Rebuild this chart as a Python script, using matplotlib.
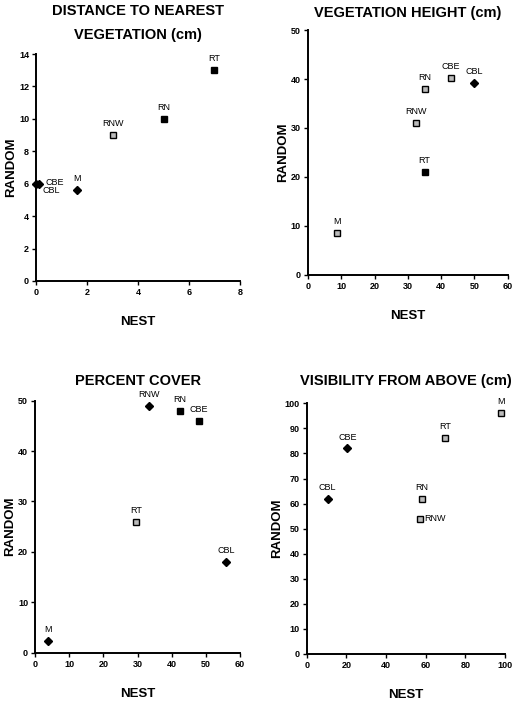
import matplotlib
matplotlib.use("Agg")
import matplotlib.pyplot as plt

plt.rcParams['font.family'] = ['Liberation Sans', 'DejaVu Sans']

# data
dist_sites = ['CBE', 'CBL', 'M', 'RNW', 'RN', 'RT']
dist_nest = [0.1, 0.0, 1.6, 3.0, 5.0, 7.0]
dist_random = [6.0, 6.0, 5.6, 9.0, 10.0, 13.0]

height_sites = ['M', 'RNW', 'RN', 'RT', 'CBE', 'CBL']
height_nest = [8.7, 32.5, 35.0, 35.0, 43.0, 50.0]
height_random = [8.5, 31.0, 38.0, 21.0, 40.2, 39.2]

cover_sites = ['M', 'RT', 'RNW', 'RN', 'CBE', 'CBL']
cover_nest = [3.8, 29.5, 33.5, 42.5, 48.0, 56.0]
cover_random = [2.3, 26.0, 49.0, 48.0, 46.0, 18.0]

vis_sites = ['CBL', 'CBE', 'RN', 'RNW', 'RT', 'M']
vis_nest = [10.5, 20.5, 58.0, 57.0, 70.0, 98.0]
vis_random = [62.0, 82.0, 62.0, 54.0, 86.0, 96.0]

# marker per point: 'D' filled diamond, 's' filled square, 'o' open square
dist_marks = ['D', 'D', 'D', 'o', 's', 's']
height_marks = ['o', 'o', 'o', 's', 'o', 'D']
cover_marks = ['D', 'o', 'D', 's', 's', 'D']
vis_marks = ['D', 'D', 'o', 'o', 'o', 'o']

# label offsets in points (dx, dy, ha, va), default is above the point
above = (0, 5, 'center', 'bottom')
dist_offs = [(5, 1, 'left', 'center'), (5, -5, 'left', 'center'), above, above, above, above]
vis_offs = [above, above, above, (3, 0, 'left', 'center'), above, above]


def draw_panel(ax, title, nest, random, sites, marks, offs, xmax, xstep, ymax, ystep, title_y):
    for x, y, s, m, o in zip(nest, random, sites, marks, offs):
        if m == 'D':
            ax.plot(x, y, marker='D', ms=3.8, color='black', clip_on=False, zorder=3)
        elif m == 's':
            ax.plot(x, y, marker='s', ms=4.5, color='black', clip_on=False, zorder=3)
        else:
            ax.plot(x, y, marker='s', ms=4.5, mfc='#bbbbbb', mec='black', mew=1.0,
                    clip_on=False, zorder=3)
        dx, dy, ha, va = o
        ax.annotate(s, (x, y), xytext=(dx, dy), textcoords='offset points',
                    ha=ha, va=va, fontsize=6.5, annotation_clip=False)
    ax.set_xlim(0, xmax)
    ax.set_ylim(0, ymax)
    ax.set_xticks(range(0, xmax + 1, xstep))
    ax.set_yticks(range(0, ymax + 1, ystep))
    for sp in ['top', 'right']:
        ax.spines[sp].set_visible(False)
    ax.spines['left'].set_linewidth(1.4)
    ax.spines['bottom'].set_linewidth(1.4)
    ax.tick_params(direction='out', length=3, width=1, labelsize=6.5, pad=2)
    for lab in ax.get_xticklabels() + ax.get_yticklabels():
        lab.set_fontweight('bold')
    ax.set_xlabel('NEST', fontsize=9.5, fontweight='bold', labelpad=14)
    ax.set_ylabel('RANDOM', fontsize=9.5, fontweight='bold', labelpad=1)
    ax.set_title(title, fontsize=10.5, fontweight='bold', y=title_y, linespacing=1.9)


fig = plt.figure(figsize=(5.15, 7.06), dpi=100)

ax1 = fig.add_axes([0.070, 0.602, 0.396, 0.3215])
draw_panel(ax1, 'DISTANCE TO NEAREST\nVEGETATION (cm)', dist_nest, dist_random,
           dist_sites, dist_marks, dist_offs, 8, 2, 14, 2, 1.03)

ax2 = fig.add_axes([0.598, 0.6105, 0.388, 0.347])
draw_panel(ax2, 'VEGETATION HEIGHT (cm)', height_nest, height_random,
           height_sites, height_marks, [above] * 6, 60, 10, 50, 10, 1.02)

ax3 = fig.add_axes([0.068, 0.0755, 0.398, 0.357])
draw_panel(ax3, 'PERCENT COVER', cover_nest, cover_random,
           cover_sites, cover_marks, [above] * 6, 60, 10, 50, 10, 1.03)

ax4 = fig.add_axes([0.5955, 0.0737, 0.385, 0.355])
draw_panel(ax4, 'VISIBILITY FROM ABOVE (cm)', vis_nest, vis_random,
           vis_sites, vis_marks, vis_offs, 100, 20, 100, 10, 1.04)

fig.savefig('out.png', dpi=100)
